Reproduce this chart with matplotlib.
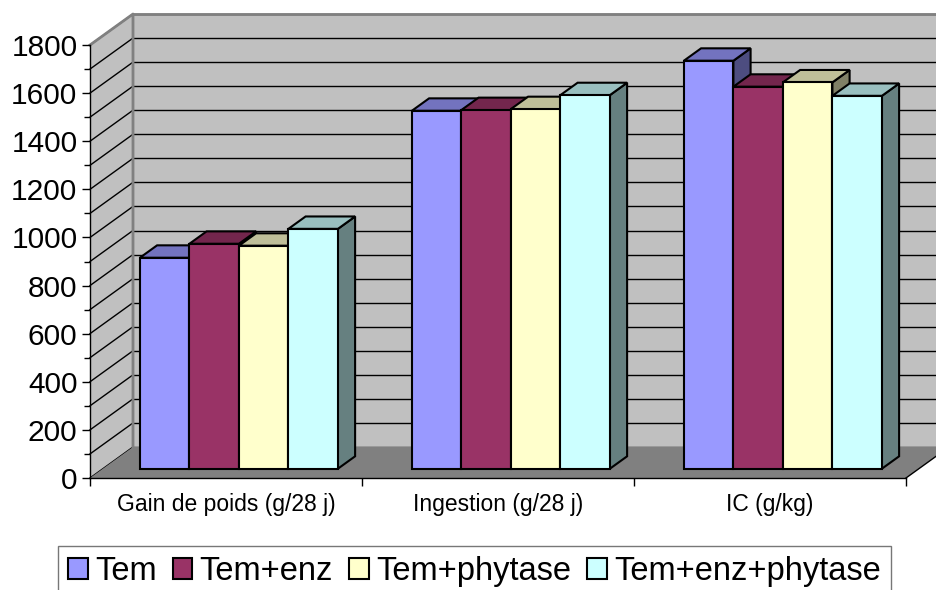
"""
Histogramme 3D (style Excel) - Gain de poids, Ingestion, IC
"""

import matplotlib
matplotlib.use("Agg")
import matplotlib.pyplot as plt
from matplotlib.patches import Polygon, Patch
from matplotlib.colors import to_rgb


categories = ["Gain de poids (g/28 j)", "Ingestion (g/28 j)", "IC (g/kg)"]
series_names = ["Tem", "Tem+enz", "Tem+phytase", "Tem+enz+phytase"]
tem = [877, 1488, 1696]
tem_enz = [935, 1491, 1588]
tem_phytase = [927, 1495, 1606]
tem_enz_phytase = [997, 1553, 1550]
series_values = [tem, tem_enz, tem_phytase, tem_enz_phytase]
colors = ["#9999FF", "#993366", "#FFFFCC", "#CCFFFF"]

Y_MAX = 1800
W, H = 937, 590
# cadre des axes en pixels (plan avant)
AX_L, AX_B, AX_W, AX_H = 90, 112, 816, 433

# profondeur du graphique 3D (en unites de donnees)
PX_X = AX_W / len(categories)      # px par categorie
PX_Y = AX_H / Y_MAX                # px par unite
DX = 43 / PX_X
DY = 31 / PX_Y
BAR_W = 0.182
BAR_OFF = 0.3    # barres a 30% de la profondeur
BAR_DEPTH = 0.4  # barres sur 40% de la profondeur

plt.rcParams["font.family"] = ["Liberation Sans", "DejaVu Sans"]


def shade(color, f):
    r, g, b = to_rgb(color)
    return (r * f, g * f, b * f)


def add_poly(ax, pts, fc, ec, lw, z):
    ax.add_patch(Polygon(pts, closed=True, facecolor=fc, edgecolor=ec,
                         linewidth=lw, joinstyle="miter", zorder=z, clip_on=False))


fig = plt.figure(figsize=(W / 100, H / 100), dpi=100)
ax = fig.add_axes([AX_L / W, AX_B / H, AX_W / W, AX_H / H])
n = len(categories)
ax.set_xlim(0, n)
ax.set_ylim(0, Y_MAX)
ax.patch.set_visible(False)

# murs
wall = "#C0C0C0"
edge = "#808080"
add_poly(ax, [(DX, DY), (n + DX, DY), (n + DX, Y_MAX + DY), (DX, Y_MAX + DY)],
         wall, "none", 0, 0)
add_poly(ax, [(0, 0), (DX, DY), (DX, Y_MAX + DY), (0, Y_MAX)], wall, "none", 0, 0)
add_poly(ax, [(0, 0), (n, 0), (n + DX, DY), (DX, DY)], "#808080", "none", 0, 1)

# quadrillage
for v in range(0, Y_MAX + 1, 100):
    ax.plot([DX, n + DX], [v + DY, v + DY], color="black", lw=1, zorder=0.5,
            clip_on=False, solid_capstyle="butt")
    ax.plot([0, DX], [v, v + DY], color="black", lw=1, zorder=0.5, clip_on=False)

# contours des murs
ax.plot([0, DX, DX], [Y_MAX, Y_MAX + DY, 0 + DY], color=edge, lw=2, zorder=0.8,
        clip_on=False)
ax.plot([DX, n + DX], [Y_MAX + DY, Y_MAX + DY], color=edge, lw=2, zorder=0.8,
        clip_on=False)
ax.plot([n, n + DX], [0, DY], color="black", lw=1, zorder=1.5, clip_on=False)

# barres
ox, oy = BAR_OFF * DX, BAR_OFF * DY
bdx, bdy = BAR_DEPTH * DX, BAR_DEPTH * DY
k = len(series_values)
z = 3
for i in range(n):
    for j, vals in enumerate(series_values):
        v = vals[i]
        c = colors[j]
        x0 = i + 0.5 - k / 2 * BAR_W + j * BAR_W + ox
        x1 = x0 + BAR_W
        y0 = oy
        y1 = oy + v
        add_poly(ax, [(x1, y0), (x1 + bdx, y0 + bdy), (x1 + bdx, y1 + bdy), (x1, y1)],
                 shade(c, 0.5), "black", 1.5, z)
        add_poly(ax, [(x0, y1), (x1, y1), (x1 + bdx, y1 + bdy), (x0 + bdx, y1 + bdy)],
                 shade(c, 0.75), "black", 1.5, z)
        add_poly(ax, [(x0, y0), (x1, y0), (x1, y1), (x0, y1)], c, "black", 1.5, z)
        z += 1

# axes
for s in ["top", "right"]:
    ax.spines[s].set_visible(False)
for s in ["left", "bottom"]:
    ax.spines[s].set_color("black")
    ax.spines[s].set_linewidth(1)
    ax.spines[s].set_zorder(50)

ax.set_yticks(range(0, Y_MAX + 1, 200))
ax.set_yticks(range(0, Y_MAX + 1, 100), minor=True)
ax.tick_params(axis="y", which="major", length=6, width=1, labelsize=21.5, pad=3)
ax.tick_params(axis="y", which="minor", length=4, width=1)

ax.set_xticks(range(0, n + 1))
ax.set_xticklabels([])
ax.set_xticks([i + 0.5 for i in range(n)], minor=True)
ax.set_xticklabels(categories, minor=True)
ax.tick_params(axis="x", which="major", length=6, width=1)
ax.tick_params(axis="x", which="minor", length=0, labelsize=16.5, pad=11)

# legende
handles = [Patch(facecolor=c, edgecolor="black", linewidth=1.5) for c in colors]
leg = fig.legend(handles, series_names, loc="upper center",
                 bbox_to_anchor=(474.5 / W, 1 - 546 / H), ncol=4, fontsize=23.5,
                 frameon=True, fancybox=False, edgecolor="#555555",
                 handlelength=0.6, handleheight=0.6, handletextpad=0.22,
                 columnspacing=0.5, borderpad=0.3, borderaxespad=0)
leg.get_frame().set_linewidth(1)

fig.savefig("out.png", dpi=100, facecolor="white")
plt.close(fig)
